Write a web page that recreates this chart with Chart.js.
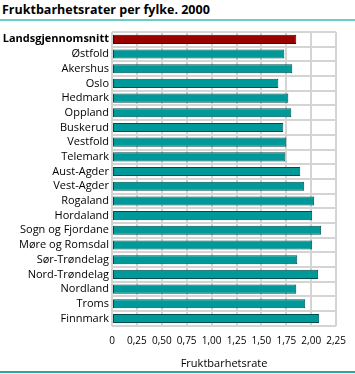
<!DOCTYPE html>
<html>
<head>
<meta charset="utf-8">
<script src="https://cdn.jsdelivr.net/npm/chart.js@4/dist/chart.umd.min.js"></script>
<style>
    body { margin: 0; background: #fff; font-family: "Open Sans", sans-serif; }
    .title { position: absolute; left: 2px; top: 1px; font-size: 12.5px; font-weight: bold; color: #000; }
    .rule-top { position: absolute; left: 0; top: 19px; width: 355px; height: 2px; background: #66cccc; }
    .rule-bottom { position: absolute; left: 0; top: 371px; width: 355px; height: 2px; background: #2aa6a3; }
    .chart-container { position: absolute; left: 0; top: 22px; width: 355px; height: 348px; }
</style>
</head>
<body>
<div class="title">Fruktbarhetsrater per fylke. 2000</div>
<div class="rule-top"></div>
<div class="chart-container"><canvas id="fylkeChart"></canvas></div>
<div class="rule-bottom"></div>
<script>
const fylker = [
    "Landsgjennomsnitt", "Østfold", "Akershus", "Oslo", "Hedmark", "Oppland",
    "Buskerud", "Vestfold", "Telemark", "Aust-Agder", "Vest-Agder", "Rogaland",
    "Hordaland", "Sogn og Fjordane", "Møre og Romsdal", "Sør-Trøndelag",
    "Nord-Trøndelag", "Nordland", "Troms", "Finnmark"
];
const rater = [
    1.85, 1.73, 1.81, 1.67, 1.77, 1.80, 1.72, 1.75, 1.74, 1.89,
    1.93, 2.03, 2.01, 2.10, 2.01, 1.86, 2.07, 1.85, 1.94, 2.08
];
const xTicks = [0, 0.25, 0.5, 0.75, 1, 1.25, 1.5, 1.75, 2, 2.25];

const barColors = fylker.map((f, i) => i === 0 ? "#990000" : "#009999");
const borderColors = fylker.map((f, i) => i === 0 ? "#4a0000" : "#004d4d");

const ctx = document.getElementById("fylkeChart").getContext("2d");

new Chart(ctx, {
    type: "bar",
    data: {
        labels: fylker,
        datasets: [{
            label: "Fruktbarhetsrate",
            data: rater,
            backgroundColor: barColors,
            borderColor: borderColors,
            borderWidth: 1,
            borderSkipped: false,
            barPercentage: 0.62,
            categoryPercentage: 1
        }]
    },
    options: {
        indexAxis: "y",
        responsive: true,
        maintainAspectRatio: false,
        animation: false,
        layout: { padding: { top: 10, right: 15, left: 0, bottom: 0 } },
        plugins: {
            legend: { display: false },
            tooltip: { enabled: false }
        },
        scales: {
            x: {
                min: 0,
                max: 2.25,
                afterBuildTicks: (scale) => {
                    scale.ticks = xTicks.map(v => ({ value: v }));
                },
                grid: { color: "#d4d4d4", lineWidth: 2, drawTicks: false },
                border: { display: false },
                ticks: {
                    padding: 9,
                    color: "#000",
                    autoSkip: false,
                    maxRotation: 0,
                    minRotation: 0,
                    font: { family: "Open Sans", size: 10 },
                    callback: (v) => v === 0 ? "0" : v.toFixed(2).replace(".", ",")
                },
                title: {
                    display: true,
                    text: "Fruktbarhetsrate",
                    color: "#000",
                    font: { family: "Open Sans", size: 11 },
                    padding: { top: 1, bottom: 0 }
                }
            },
            y: {
                afterFit: (scale) => { scale.width = 112; },
                grid: { color: "#d4d4d4", lineWidth: 2, drawTicks: false },
                border: { display: false },
                ticks: {
                    padding: 3,
                    color: "#000",
                    autoSkip: false,
                    font: (c) => ({
                        family: "Open Sans",
                        size: 11,
                        weight: c.index === 0 ? "bold" : "normal"
                    })
                }
            }
        }
    }
});
</script>
</body>
</html>
